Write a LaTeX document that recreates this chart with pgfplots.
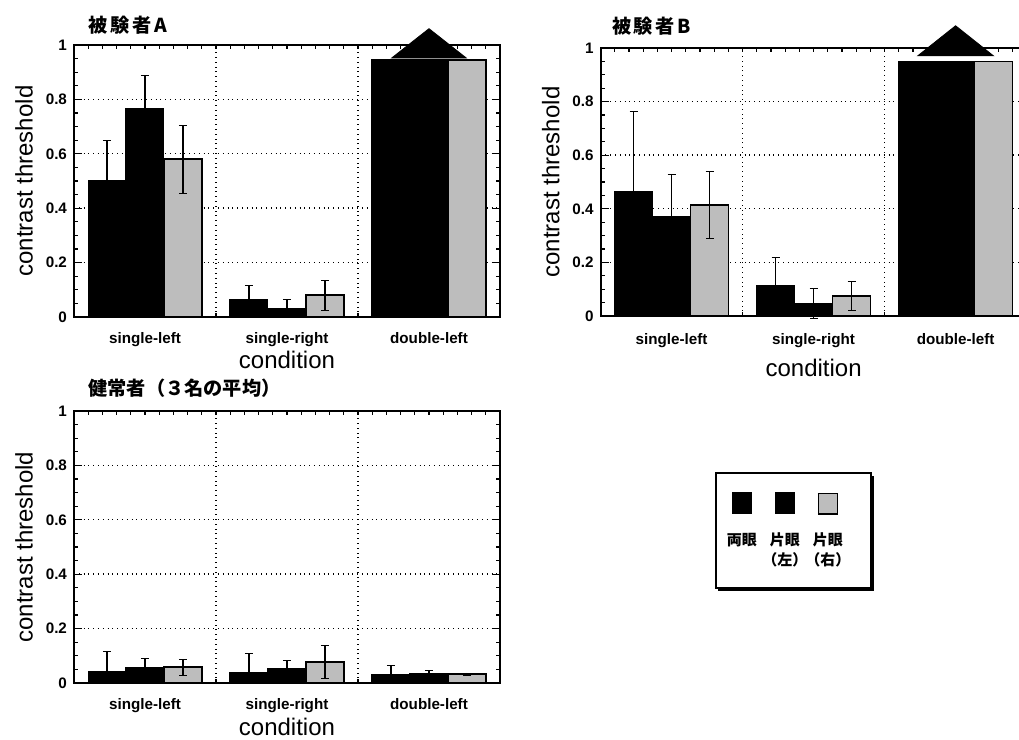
\documentclass[border=0pt]{standalone}
\usepackage{fontspec}
\setmainfont{Liberation Sans}
\newfontfamily\jp{Noto Sans CJK JP}
\newfontfamily\jpt{Noto Sans CJK JP}[LetterSpace=14]
\usepackage{pgfplots}
\usepackage{pgfplotstable}
\pgfplotsset{compat=1.18}
\usetikzlibrary{shadows}
\setlength{\fboxsep}{0pt}
\setlength{\fboxrule}{0.6pt}
\definecolor{stip}{gray}{0.74}

\newcommand\tickfont{\bfseries\fontsize{7.6}{9}\selectfont}
\newcommand\labfont{\fontsize{12}{14}\selectfont}

\pgfplotstableread{
x y e
0 0.500 0.150
1 0.066 0.050
2 0.945 0
}\Aone
\pgfplotstableread{
x y e
0 0.765 0.125
1 0.033 0.033
2 0.945 0
}\Atwo
\pgfplotstableread{
x y e
0 0.580 0.125
1 0.080 0.055
2 0.945 0
}\Athree
\pgfplotstableread{
x y e
0 0.464 0.300
1 0.113 0.105
2 0.949 0
}\Bone
\pgfplotstableread{
x y e
0 0.370 0.160
1 0.047 0.056
2 0.949 0
}\Btwo
\pgfplotstableread{
x y e
0 0.414 0.125
1 0.075 0.055
2 0.949 0
}\Bthree
\pgfplotstableread{
x y e
0 0.044 0.074
1 0.040 0.067
2 0.032 0.034
}\Cone
\pgfplotstableread{
x y e
0 0.058 0.031
1 0.053 0.029
2 0.035 0.010
}\Ctwo
\pgfplotstableread{
x y e
0 0.058 0.030
1 0.078 0.060
2 0.032 0.005
}\Cthree

\pgfplotsset{
  myax/.style={
    scale only axis, width=213pt,
    xmin=-0.5, xmax=2.5, ymin=0, ymax=1,
    xtick={0,1,2},
    xticklabels={single-left,single-right,double-left},
    major x tick style={draw=none},
    minor xtick={-0.4,-0.3,...,2.45},
    extra x ticks={0.5,1.5},
    extra x tick labels={},
    extra x tick style={grid=major},
    ytick={0,0.2,0.4,0.6,0.8,1},
    minor y tick num=3,
    ymajorgrids,
    grid style={black, dotted, line width=0.7pt},
    tick align=inside,
    major tick length=4pt,
    minor tick length=2pt,
    tick style={black, line width=0.6pt},
    axis line style={line width=0.9pt},
    /pgf/number format/assume math mode=true,
    ticklabel style={font=\tickfont},
    xlabel={condition},
    ylabel={contrast threshold},
    every axis y label/.style={at={(axis description cs:-0.117,0.5)}, rotate=90, anchor=center, font=\labfont},
    title style={font=\jpt\bfseries\fontsize{9.6}{11}\selectfont, anchor=west, yshift=0pt, inner sep=0pt},
  },
  b1/.style={ybar, bar width=19pt, bar shift=0pt, fill=black, draw=black, line width=0.5pt,
    error bars/.cd, y dir=both, y explicit, error bar style={line width=0.7pt, black}},
  b2/.style={ybar, bar width=19pt, bar shift=0pt, fill=black, draw=black, line width=0.5pt,
    error bars/.cd, y dir=both, y explicit, error bar style={line width=0.7pt, black}},
  b3/.style={ybar, bar width=19pt, bar shift=0pt, fill=stip, draw=black, line width=0.8pt,
    error bars/.cd, y dir=both, y explicit, error bar style={line width=0.7pt, black}},
}
\newcommand\dx{0.2676}

\begin{document}
\begin{tikzpicture}
\useasboundingbox (0,0) rectangle (509.5pt,370pt);

% Subject A
\begin{axis}[myax, at={(37pt,211.5pt)}, anchor=south west, height=136pt, clip=false,
  title={被験者A}, title style={at={(axis description cs:0.033,1.030)}},
  every axis x label/.style={at={(axis description cs:0.5,-0.158)}, anchor=center, font=\labfont},
  xticklabel style={yshift=-4pt}]
\addplot[b1] table[x expr=\thisrow{x}-\dx, y=y, y error=e] {\Aone};
\addplot[b2] table[x=x, y=y, y error=e] {\Atwo};
\addplot[b3] table[x expr=\thisrow{x}+\dx, y=y, y error=e] {\Athree};
\addplot[fill=black, draw=black, mark=none] coordinates {(1.737,0.952) (2,1.06) (2.263,0.952)} -- cycle;
\end{axis}

% Subject B
\begin{axis}[myax, at={(300.3pt,212pt)}, anchor=south west, height=134pt, clip=false,
  title={被験者B}, title style={at={(axis description cs:0.026,1.038)}},
  every axis x label/.style={at={(axis description cs:0.5,-0.194)}, anchor=center, font=\labfont},
  xticklabel style={yshift=-5pt}]
\addplot[b1] table[x expr=\thisrow{x}-\dx, y=y, y error=e] {\Bone};
\addplot[b2] table[x=x, y=y, y error=e] {\Btwo};
\addplot[b3] table[x expr=\thisrow{x}+\dx, y=y, y error=e] {\Bthree};
\addplot[fill=black, draw=black, mark=none] coordinates {(1.734,0.971) (2,1.083) (2.266,0.971)} -- cycle;
\end{axis}

% Normal subjects
\begin{axis}[myax, at={(37pt,28.5pt)}, anchor=south west, height=136pt,
  title={健常者（３名の平均）},
  title style={at={(axis description cs:0.033,1.040)}, font=\jp\bfseries\fontsize{9.6}{11}\selectfont},
  every axis x label/.style={at={(axis description cs:0.5,-0.163)}, anchor=center, font=\labfont},
  xticklabel style={yshift=-4pt},
  legend columns=3,
  legend image code/.code={},
  legend style={at={(axis description cs:1.5047,0.7757)}, anchor=north west,
    draw=black, line width=0.9pt, fill=white,
    drop shadow={shadow xshift=1.3pt, shadow yshift=-1.3pt, fill=black, opacity=1},
    inner xsep=2.3pt, inner ysep=7.5pt,
    font=\jp\bfseries\fontsize{7.5}{10}\selectfont,
    /tikz/every even column/.append style={column sep=0pt}}]
\addplot[b1] table[x expr=\thisrow{x}-\dx, y=y, y error=e] {\Cone};
\addlegendentry{\begin{tabular}[b]{@{}c@{}}\makebox[17.5pt]{\rule{10pt}{11pt}}\\[6pt]\makebox[17.5pt]{両眼}\\\mbox{}\end{tabular}}
\addplot[b2] table[x=x, y=y, y error=e] {\Ctwo};
\addlegendentry{\begin{tabular}[b]{@{}c@{}}\makebox[17.5pt]{\rule{10pt}{11pt}}\\[6pt]\makebox[17.5pt]{片眼}\\\makebox[17.5pt]{（左）}\end{tabular}}
\addplot[b3] table[x expr=\thisrow{x}+\dx, y=y, y error=e] {\Cthree};
\addlegendentry{\begin{tabular}[b]{@{}c@{\hspace{8.5pt}}}\makebox[17.5pt]{\fcolorbox{black}{stip}{\rule{0pt}{9.8pt}\hspace{8.8pt}}}\\[6pt]\makebox[17.5pt]{片眼}\\\makebox[17.5pt]{（右）}\end{tabular}}
\end{axis}
\end{tikzpicture}
\end{document}
